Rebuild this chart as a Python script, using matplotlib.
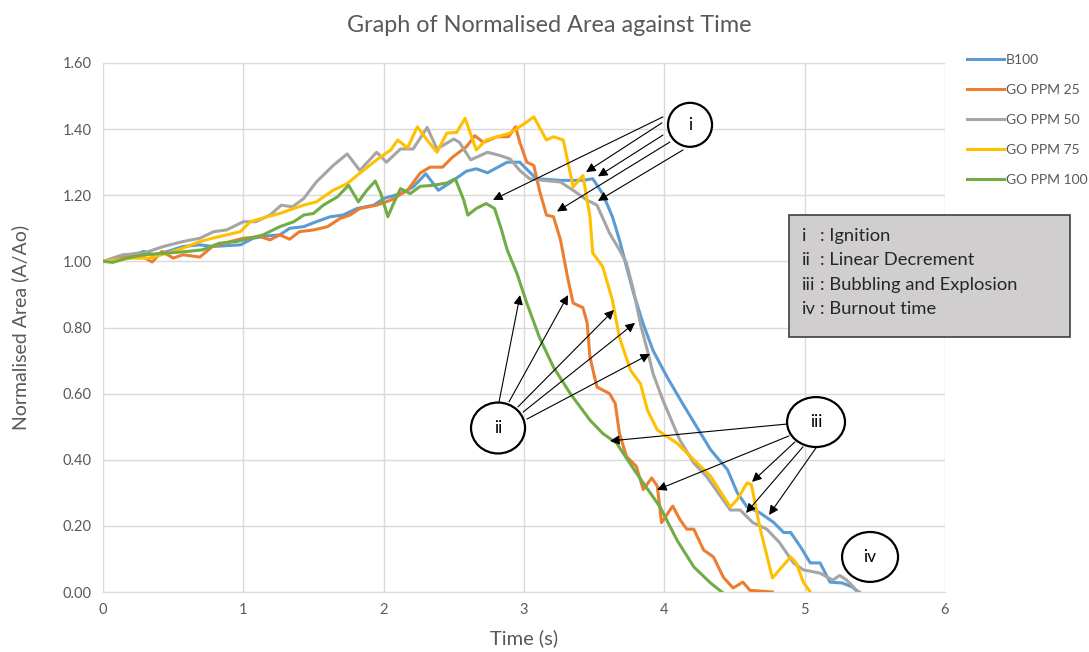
import matplotlib
matplotlib.use("Agg")
import matplotlib.pyplot as plt
import numpy as np
from matplotlib.patches import Ellipse, Rectangle

plt.rcParams["font.family"] = ["Lato", "DejaVu Sans"]

# ---- data (time in s, normalised area A/Ao) ----
b100_t = [0, 0.12, 0.22, 0.29, 0.36, 0.46, 0.57, 0.69, 0.78, 0.98, 1.07, 1.17, 1.26, 1.33,
          1.43, 1.52, 1.62, 1.71, 1.81, 1.93, 2.0, 2.12, 2.21, 2.30, 2.39, 2.47, 2.59, 2.66,
          2.74, 2.88, 2.97, 3.04, 3.09, 3.26, 3.42, 3.49, 3.56, 3.63, 3.68, 3.73, 3.78, 3.85,
          3.92, 4.02, 4.13, 4.23, 4.33, 4.45, 4.52, 4.59, 4.68, 4.78, 4.85, 4.90, 4.97, 5.04,
          5.11, 5.18, 5.27, 5.34, 5.38]
b100_y = [1.0, 1.01, 1.02, 1.03, 1.02, 1.03, 1.045, 1.05, 1.045, 1.05, 1.07, 1.077, 1.08, 1.10,
          1.105, 1.12, 1.135, 1.14, 1.16, 1.17, 1.19, 1.205, 1.225, 1.265, 1.215, 1.237, 1.273, 1.28,
          1.268, 1.30, 1.30, 1.27, 1.25, 1.245, 1.245, 1.25, 1.205, 1.135, 1.065, 0.985, 0.905, 0.81,
          0.73, 0.65, 0.57, 0.50, 0.43, 0.37, 0.30, 0.257, 0.24, 0.21, 0.18, 0.18, 0.137, 0.088,
          0.088, 0.03, 0.027, 0.015, 0.0]

ppm25_t = [0, 0.12, 0.24, 0.35, 0.42, 0.50, 0.57, 0.69, 0.78, 0.88, 1.0, 1.12, 1.19, 1.26, 1.33,
           1.40, 1.50, 1.60, 1.69, 1.76, 1.83, 1.95, 2.05, 2.17, 2.26, 2.33, 2.42, 2.49, 2.59,
           2.65, 2.71, 2.81, 2.89, 2.94, 2.97, 3.02, 3.07, 3.11, 3.16, 3.21, 3.26, 3.31, 3.35,
           3.42, 3.45, 3.47, 3.52, 3.61, 3.65, 3.68, 3.73, 3.80, 3.85, 3.91, 3.95, 3.98, 4.06,
           4.11, 4.16, 4.21, 4.28, 4.35, 4.42, 4.49, 4.56, 4.61, 4.77]
ppm25_y = [1.0, 1.01, 1.025, 0.998, 1.03, 1.01, 1.02, 1.013, 1.045, 1.057, 1.07, 1.075, 1.065,
           1.08, 1.067, 1.09, 1.095, 1.105, 1.13, 1.14, 1.16, 1.17, 1.185, 1.215, 1.267, 1.285,
           1.285, 1.315, 1.347, 1.38, 1.36, 1.377, 1.377, 1.407, 1.36, 1.30, 1.29, 1.215, 1.14,
           1.135, 1.065, 0.953, 0.874, 0.86, 0.814, 0.71, 0.62, 0.60, 0.57, 0.48, 0.41, 0.38, 0.31,
           0.345, 0.32, 0.21, 0.26, 0.22, 0.19, 0.19, 0.127, 0.106, 0.045, 0.012, 0.03, 0.005, 0.0]

ppm50_t = [0, 0.14, 0.29, 0.43, 0.57, 0.69, 0.79, 0.88, 1.0, 1.09, 1.19, 1.27, 1.35, 1.43, 1.52,
           1.64, 1.74, 1.83, 1.95, 2.02, 2.12, 2.21, 2.31, 2.38, 2.50, 2.54, 2.62, 2.74, 2.83,
           2.90, 2.97, 3.04, 3.14, 3.26, 3.35, 3.45, 3.52, 3.61, 3.68, 3.73, 3.78, 3.83, 3.88,
           3.92, 3.99, 4.11, 4.21, 4.30, 4.40, 4.47, 4.54, 4.63, 4.73, 4.82, 4.92, 4.99, 5.11,
           5.20, 5.25, 5.30, 5.37, 5.39]
ppm50_y = [1.0, 1.02, 1.025, 1.045, 1.06, 1.07, 1.09, 1.095, 1.12, 1.12, 1.14, 1.17, 1.165, 1.19,
           1.24, 1.29, 1.325, 1.275, 1.33, 1.30, 1.34, 1.34, 1.405, 1.34, 1.37, 1.36, 1.307, 1.33,
           1.32, 1.31, 1.275, 1.25, 1.245, 1.24, 1.215, 1.185, 1.17, 1.085, 1.035, 0.995, 0.913,
           0.81, 0.73, 0.66, 0.58, 0.46, 0.39, 0.35, 0.29, 0.248, 0.248, 0.21, 0.19, 0.15, 0.088,
           0.067, 0.057, 0.036, 0.05, 0.036, 0.005, 0.0]

ppm75_t = [0, 0.21, 0.33, 0.46, 0.57, 0.69, 0.78, 0.88, 0.98, 1.05, 1.17, 1.26, 1.36, 1.43, 1.52,
           1.64, 1.74, 1.83, 1.95, 2.05, 2.10, 2.17, 2.24, 2.31, 2.38, 2.45, 2.52, 2.58, 2.66,
           2.73, 2.81, 2.90, 2.99, 3.07, 3.16, 3.21, 3.28, 3.35, 3.42, 3.47, 3.49, 3.56, 3.63,
           3.68, 3.76, 3.83, 3.88, 3.95, 4.09, 4.21, 4.33, 4.47, 4.52, 4.59, 4.62, 4.68, 4.77,
           4.82, 4.90, 4.94, 4.99, 5.04]
ppm75_y = [1.0, 1.01, 1.01, 1.025, 1.04, 1.06, 1.07, 1.08, 1.09, 1.12, 1.135, 1.145, 1.16, 1.17,
           1.18, 1.215, 1.235, 1.267, 1.307, 1.337, 1.367, 1.343, 1.407, 1.367, 1.33, 1.388, 1.39,
           1.433, 1.337, 1.367, 1.377, 1.388, 1.413, 1.437, 1.367, 1.377, 1.367, 1.225, 1.26,
           1.135, 1.025, 0.985, 0.883, 0.77, 0.67, 0.63, 0.55, 0.49, 0.45, 0.40, 0.35, 0.257,
           0.28, 0.33, 0.325, 0.197, 0.042, 0.067, 0.106, 0.088, 0.03, 0.0]

ppm100_t = [0, 0.07, 0.17, 0.29, 0.46, 0.60, 0.71, 0.83, 0.95, 1.05, 1.14, 1.26, 1.36, 1.43, 1.50,
            1.57, 1.67, 1.75, 1.82, 1.88, 1.94, 1.98, 2.03, 2.07, 2.12, 2.19, 2.26, 2.35, 2.45,
            2.51, 2.57, 2.60, 2.66, 2.73, 2.79, 2.84, 2.88, 2.95, 3.02, 3.11, 3.21, 3.33, 3.47,
            3.56, 3.66, 3.80, 3.97, 4.09, 4.21, 4.33, 4.41]
ppm100_y = [1.0, 0.997, 1.01, 1.02, 1.025, 1.03, 1.035, 1.055, 1.06, 1.07, 1.08, 1.105, 1.12, 1.14,
            1.145, 1.17, 1.195, 1.23, 1.18, 1.215, 1.243, 1.205, 1.135, 1.175, 1.22, 1.205, 1.227,
            1.23, 1.237, 1.25, 1.186, 1.14, 1.16, 1.175, 1.16, 1.095, 1.035, 0.963, 0.874, 0.77,
            0.68, 0.60, 0.52, 0.48, 0.45, 0.36, 0.257, 0.157, 0.076, 0.027, 0.0]

series = [
    ("B100", b100_t, b100_y, "#5B9BD5"),
    ("GO PPM 25", ppm25_t, ppm25_y, "#ED7D31"),
    ("GO PPM 50", ppm50_t, ppm50_y, "#A5A5A5"),
    ("GO PPM 75", ppm75_t, ppm75_y, "#FFC000"),
    ("GO PPM 100", ppm100_t, ppm100_y, "#70AD47"),
]

# stage markers: label, centre (t, A/Ao), ellipse size, arrow tails and tips
stages = {
    "i": ((4.183, 1.413), (0.314, 0.133),
          [((3.99, 1.437), (2.779, 1.186)), ((3.983, 1.419), (3.442, 1.270)),
           ((3.99, 1.382), (3.527, 1.257)), ((4.040, 1.361), (3.235, 1.151)),
           ((4.133, 1.337), (3.527, 1.183))]),
    "ii": ((2.815, 0.496), (0.385, 0.154),
           [((2.822, 0.575), (2.972, 0.898)), ((2.893, 0.575), (3.314, 0.898)),
            ((2.957, 0.560), (3.641, 0.853)), ((2.993, 0.544), (3.791, 0.814)),
            ((3.021, 0.523), (3.898, 0.720))]),
    "iii": ((5.081, 0.514), (0.413, 0.151),
            [((4.874, 0.508), (3.613, 0.457)), ((4.888, 0.472), (3.948, 0.309)),
             ((4.931, 0.454), (4.625, 0.333)), ((4.988, 0.439), (4.582, 0.239)),
             ((5.081, 0.436), (4.746, 0.233))]),
    "iv": ((5.466, 0.106), (0.399, 0.151), []),
}

key_labels = ["i", "ii", "iii", "iv"]
key_texts = [": Ignition", ": Linear Decrement", ": Bubbling and Explosion", ": Burnout time"]

W, H = 1089, 652
fig = plt.figure(figsize=(W / 100, H / 100), dpi=100)
ax = fig.add_axes([103 / W, 1 - 592 / H, (945 - 103) / W, (592 - 63) / H])

for name, t, y, c in series:
    ax.plot(t, y, color=c, lw=2.2, label=name, solid_joinstyle="round", zorder=3)

ax.set_xlim(0, 6)
ax.set_ylim(0, 1.6)
ax.set_xticks(np.arange(0, 7, 1))
ax.set_yticks(np.arange(0, 1.61, 0.2))
ax.set_yticklabels([f"{v:.2f}" for v in np.arange(0, 1.61, 0.2)])
ax.grid(True, color="#d9d9d9", lw=1)
ax.set_axisbelow(True)
for s in ["top", "right", "left"]:
    ax.spines[s].set_visible(False)
ax.spines["bottom"].set_color("#d9d9d9")
ax.tick_params(length=0, labelsize=10.5, colors="#595959", pad=8)

ax.set_xlabel("Time (s)", fontsize=14.5, color="#595959", labelpad=9)
ax.set_ylabel("Normalised Area (A/Ao)", fontsize=14, color="#595959", labelpad=24)
fig.text(549 / W, 1 - 25 / H, "Graph of Normalised Area against Time",
         fontsize=16.8, color="#595959", ha="center", va="center")

for lab, (centre, size, arrows) in stages.items():
    ax.add_patch(Ellipse(centre, size[0], size[1], facecolor="white", edgecolor="black",
                         lw=1.6, zorder=5))
    ax.text(centre[0], centre[1], lab, ha="center", va="center", fontsize=12.5, zorder=6)
    for tail, tip in arrows:
        ax.annotate("", xy=tip, xytext=tail, zorder=4,
                    arrowprops=dict(arrowstyle="-|>", color="black", lw=0.8,
                                    mutation_scale=14, shrinkA=0, shrinkB=0))

fig.legend(loc="upper left", bbox_to_anchor=(954 / W, 1 - 41 / H), frameon=False,
           fontsize=10, handlelength=2.7, labelspacing=1.3, handletextpad=0.15,
           labelcolor="#595959")

fig.add_artist(Rectangle((789 / W, 1 - 337 / H), (1070 - 789) / W, (337 - 215) / H,
                         transform=fig.transFigure, facecolor="#d0cece",
                         edgecolor="#404040", lw=1.2))
for i, (lab, txt) in enumerate(zip(key_labels, key_texts)):
    yy = 1 - (236 + 24.4 * i) / H
    fig.text(802 / W, yy, lab, fontsize=13.2, color="#262626", va="center")
    fig.text(820 / W, yy, txt, fontsize=13.2, color="#262626", va="center")

fig.savefig("out.png", dpi=100)
